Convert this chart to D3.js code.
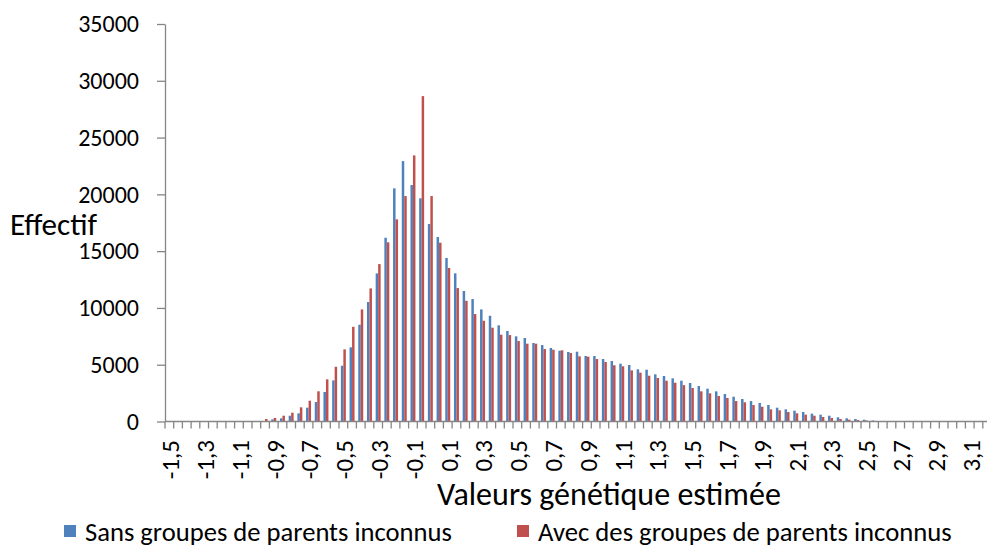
<!DOCTYPE html>
<html>
<head>
<meta charset="utf-8">
<script src="https://cdn.jsdelivr.net/npm/d3@7"></script>
<style>
  html, body { margin: 0; padding: 0; background: #ffffff; }
  svg { display: block; font-family: Carlito, Lato, "Open Sans", sans-serif; }
</style>
</head>
<body>
<svg id="chart" width="987" height="547"></svg>
<script>
// ---- data ----
const categories = [
  -1.5, -1.45, -1.4, -1.35, -1.3, -1.25, -1.2, -1.15, -1.1, -1.05,
  -1.0, -0.95, -0.9, -0.85, -0.8, -0.75, -0.7, -0.65, -0.6, -0.55,
  -0.5, -0.45, -0.4, -0.35, -0.3, -0.25, -0.2, -0.15, -0.1, -0.05,
  0.0, 0.05, 0.1, 0.15, 0.2, 0.25, 0.3, 0.35, 0.4, 0.45,
  0.5, 0.55, 0.6, 0.65, 0.7, 0.75, 0.8, 0.85, 0.9, 0.95,
  1.0, 1.05, 1.1, 1.15, 1.2, 1.25, 1.3, 1.35, 1.4, 1.45,
  1.5, 1.55, 1.6, 1.65, 1.7, 1.75, 1.8, 1.85, 1.9, 1.95,
  2.0, 2.05, 2.1, 2.15, 2.2, 2.25, 2.3, 2.35, 2.4, 2.45,
  2.5, 2.55, 2.6, 2.65, 2.7, 2.75, 2.8, 2.85, 2.9, 2.95,
  3.0, 3.05, 3.1, 3.15, 3.2
];
const sansGroupes = [
  0, 0, 0, 0, 0, 0, 0, 0, 0, 0,
  0, 30, 190, 280, 510, 720, 1215, 1720, 2600, 3620,
  4910, 6530, 8520, 10520, 13040, 16180, 20530, 22930, 20820, 19650,
  17385, 16240, 14400, 13046, 11490, 10780, 9870, 9310, 8470, 7970,
  7500, 7350, 6910, 6730, 6470, 6230, 6120, 6145, 5765, 5765,
  5500, 5325, 5090, 4975, 4595, 4560, 4155, 4005, 3800, 3590,
  3390, 3125, 2890, 2655, 2420, 2185, 1980, 1800, 1630, 1450,
  1215, 1070, 950, 835, 690, 600, 510, 370, 280, 220,
  160, 90, 40, 0, 0, 0, 0, 0, 0, 0,
  0, 0, 0, 0, 0
];
const avecGroupes = [
  0, 0, 0, 0, 0, 0, 0, 0, 0, 0,
  20, 220, 310, 510, 775, 1250, 1830, 2660, 3710, 4820,
  6350, 8340, 9870, 11720, 13860, 15775, 17800, 19850, 23430, 28650,
  19850, 15740, 13520, 11750, 10630, 9460, 8870, 8260, 7640, 7610,
  7085, 6850, 6850, 6380, 6320, 6270, 6030, 5740, 5705, 5500,
  5240, 4950, 4860, 4505, 4300, 4030, 3830, 3590, 3415, 3200,
  2950, 2655, 2480, 2245, 2070, 1800, 1690, 1450, 1300, 1070,
  985, 835, 720, 600, 510, 395, 310, 220, 160, 130,
  90, 50, 20, 0, 0, 0, 0, 0, 0, 0,
  0, 0, 0, 0, 0
];
const seriesNames = ["Sans groupes de parents inconnus", "Avec des groupes de parents inconnus"];
const seriesColors = ["#4F81BD", "#C0504D"];
const xTickLabels = [
  "-1,5", "-1,3", "-1,1", "-0,9", "-0,7", "-0,5", "-0,3", "-0,1",
  "0,1", "0,3", "0,5", "0,7", "0,9", "1,1", "1,3", "1,5", "1,7",
  "1,9", "2,1", "2,3", "2,5", "2,7", "2,9", "3,1"
];
const yTicks = [0, 5000, 10000, 15000, 20000, 25000, 30000, 35000];
const yTitle = "Effectif";
const xTitle = "Valeurs génétique estimée";

// ---- layout ----
const svg = d3.select("#chart");
const left = 165, catW = 8.7;
const yBottom = 421.5, yTop = 24;
const axisColor = "#868686";

const x = d3.scaleBand().domain(categories).range([left, left + categories.length * catW]).padding(0);
const xs = d3.scaleBand().domain([0, 1]).range([0, x.bandwidth()]).paddingInner(0).paddingOuter(0.75);
const y = d3.scaleLinear().domain([0, 35000]).range([yBottom, yTop]);

const table = categories.map((c, i) => ({ c, v: [sansGroupes[i], avecGroupes[i]] }));

// bars
const g = svg.append("g");
table.forEach(row => {
  row.v.forEach((v, s) => {
    if (v <= 0) return;
    g.append("rect")
      .attr("x", x(row.c) + xs(s))
      .attr("y", y(v))
      .attr("width", xs.bandwidth())
      .attr("height", y(0) - y(v))
      .attr("fill", seriesColors[s]);
  });
});

// y axis
const yAxis = svg.append("g")
  .attr("transform", `translate(${left},0)`)
  .call(d3.axisLeft(y).tickValues(yTicks).tickFormat(d3.format("d")).tickSize(8).tickPadding(18).tickSizeOuter(0));
yAxis.attr("font-family", null).attr("font-size", null);
yAxis.select(".domain").attr("stroke", axisColor).attr("stroke-width", 1.3);
yAxis.selectAll(".tick line").attr("stroke", axisColor).attr("stroke-width", 1.3);
yAxis.selectAll(".tick text").attr("fill", "#000").style("font-size", "24px");

// x axis line and boundary ticks
const xEnd = left + categories.length * catW;
svg.append("line")
  .attr("x1", left).attr("x2", xEnd).attr("y1", yBottom).attr("y2", yBottom)
  .attr("stroke", axisColor).attr("stroke-width", 1.5);
const bounds = categories.map(c => x(c)).concat([xEnd]);
svg.append("g").selectAll("line").data(bounds).join("line")
  .attr("x1", d => d).attr("x2", d => d)
  .attr("y1", yBottom).attr("y2", yBottom + 7)
  .attr("stroke", axisColor).attr("stroke-width", 1.3);

// x tick labels (every 4th category)
const labelled = categories.filter((c, i) => i % 4 === 0);
svg.append("g").selectAll("text").data(labelled).join("text")
  .attr("transform", d => `translate(${x(d) + x.bandwidth() / 2 + 1},440) rotate(-90)`)
  .attr("text-anchor", "end")
  .attr("dy", "0.35em")
  .style("font-size", "25px")
  .attr("fill", "#000")
  .text((d, i) => xTickLabels[i]);

function fitWidth(sel, target) {
  const len = sel.node().getComputedTextLength();
  const fs = parseFloat(sel.attr("font-size"));
  if (len > 0) sel.attr("font-size", fs * target / len);
}

// titles
const yt = svg.append("text").attr("x", 10).attr("y", 235).attr("font-size", 28).attr("fill", "#000").text(yTitle);
fitWidth(yt, 87);
const xt = svg.append("text").attr("x", 437).attr("y", 505).attr("font-size", 30).attr("fill", "#000").text(xTitle);
fitWidth(xt, 344);

// legend
const legX = [64, 517], legTextX = [85, 538], legW = [367, 414];
seriesNames.forEach((name, s) => {
  svg.append("rect").attr("x", legX[s]).attr("y", 525).attr("width", 12).attr("height", 12).attr("fill", seriesColors[s]);
  const t = svg.append("text").attr("x", legTextX[s]).attr("y", 541).attr("font-size", 24).attr("fill", "#000").text(name);
  fitWidth(t, legW[s]);
});
</script>
</body>
</html>
